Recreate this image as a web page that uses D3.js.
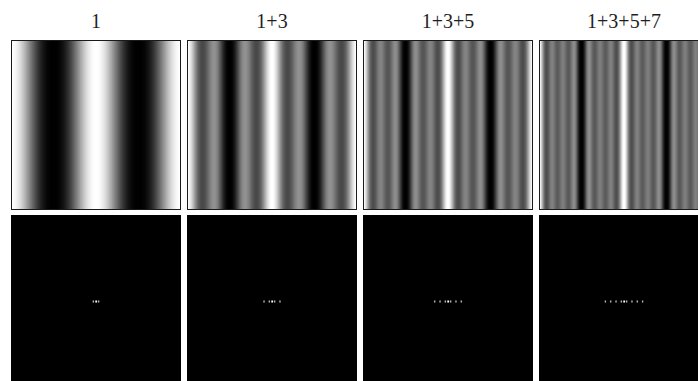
<!DOCTYPE html>
<html>
<head>
<meta charset="utf-8">
<script src="https://cdn.jsdelivr.net/npm/d3@7"></script>
<style>
  html, body { margin: 0; padding: 0; background: #fff; }
  svg { display: block; }
</style>
</head>
<body>
<svg id="chart" width="698" height="381"></svg>
<script>
// Panel titles and the odd harmonics summed in each grating
const titles = ["1", "1+3", "1+3+5", "1+3+5+7"];
const harmonics = [[1], [1, 3], [1, 3, 5], [1, 3, 5, 7]];
// Fundamental: cycles across one panel
const fundamentalCycles = 2;
// Spectrum magnitudes (relative): DC term and each harmonic peak
const dcMagnitude = 1.0;
const harmonicMagnitude = 0.72;

const W = 698, H = 381;
const svg = d3.select("#chart");

const panelSize = 170;
const gap = 6;
const left = 11;
const topRowY = 40;
const bottomRowY = 215;

// Column placement of the four panels
const xBand = d3.scaleBand()
  .domain(titles)
  .range([left, left + titles.length * (panelSize + gap) - gap])
  .paddingInner(gap / (panelSize + gap))
  .paddingOuter(0);

// Pixel columns inside one panel
const cols = d3.range(panelSize);
const uScale = d3.scaleLinear().domain([0, panelSize]).range([0, 1]);

// Frequency axis of the spectra (cycles per panel -> px from centre)
const freqScale = d3.scaleLinear().domain([-64, 64]).range([-panelSize / 2, panelSize / 2]);
const magToGray = d3.scaleLinear().domain([0, 1]).range([0, 255]).clamp(true);

titles.forEach((title, i) => {
  const x0 = xBand(title);
  const ks = harmonics[i];

  // Grating profile: sum of equal-weight cosines of the chosen harmonics
  const profile = cols.map(c => {
    const u = uScale(c + 0.5);
    return d3.sum(ks, k => Math.cos(2 * Math.PI * fundamentalCycles * k * u));
  });
  const ext = d3.extent(profile);
  const gray = d3.scaleLinear().domain(ext).range([0, 1]);

  const g = svg.append("g").attr("transform", `translate(${x0},${topRowY})`);
  g.selectAll("rect.col")
    .data(profile)
    .join("rect")
    .attr("class", "col")
    .attr("x", (d, c) => c)
    .attr("y", 0)
    .attr("width", 1.05)
    .attr("height", panelSize)
    .attr("shape-rendering", "crispEdges")
    .attr("fill", d => {
      const v = Math.round(255 * Math.pow(gray(d), 1.25));
      return d3.rgb(v, v, v);
    });
  g.append("rect")
    .attr("x", 0.5).attr("y", 0.5)
    .attr("width", panelSize - 1).attr("height", panelSize - 1)
    .attr("fill", "none")
    .attr("stroke", "#1a1a1a")
    .attr("stroke-width", 1);

  // Title above the grating
  svg.append("text")
    .attr("x", x0 + panelSize / 2)
    .attr("y", 28)
    .attr("text-anchor", "middle")
    .attr("font-family", "'Liberation Serif', 'Times New Roman', serif")
    .attr("font-size", 20)
    .attr("fill", "#1e1e1e")
    .text(title);

  // Spectrum: black field with DC and +/- harmonic peaks
  const sg = svg.append("g").attr("transform", `translate(${x0},${bottomRowY})`);
  sg.append("rect")
    .attr("width", panelSize).attr("height", panelSize)
    .attr("fill", "#000");

  const peaks = [{ f: 0, m: dcMagnitude }];
  ks.forEach(k => {
    peaks.push({ f: fundamentalCycles * k, m: harmonicMagnitude });
    peaks.push({ f: -fundamentalCycles * k, m: harmonicMagnitude });
  });
  sg.selectAll("rect.peak")
    .data(peaks)
    .join("rect")
    .attr("class", "peak")
    .attr("x", d => panelSize / 2 + freqScale(d.f) - 0.7)
    .attr("y", panelSize / 2 + 0.5)
    .attr("width", d => d.f === 0 ? 1.8 : 1.4)
    .attr("height", 2)
    .attr("fill", d => {
      const v = Math.round(magToGray(d.m));
      return d3.rgb(v, v, v);
    });
});
</script>
</body>
</html>
